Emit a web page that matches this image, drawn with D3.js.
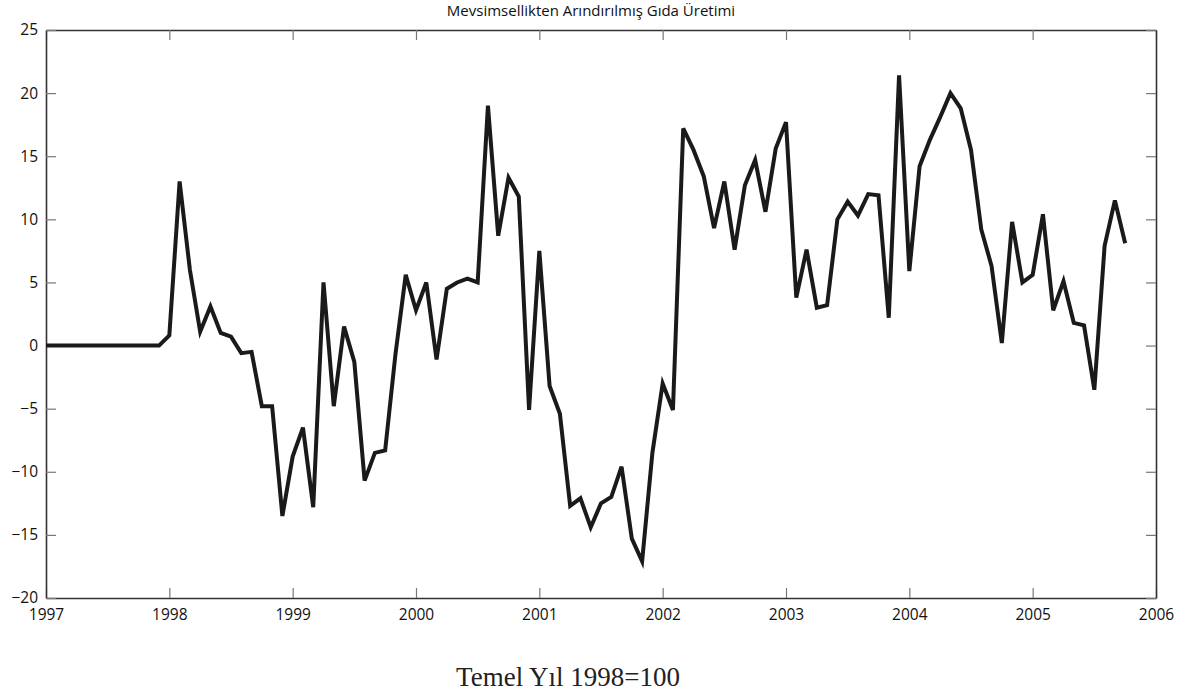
<!DOCTYPE html>
<html>
<head>
<meta charset="utf-8">
<script src="https://cdn.jsdelivr.net/npm/d3@7"></script>
<style>
  html, body { margin: 0; padding: 0; background: #ffffff; }
  svg { display: block; }
</style>
</head>
<body>
<script>
// ---- data ----
const title = "Mevsimsellikten Arındırılmış Gıda Üretimi";
const footnote = "Temel Yıl 1998=100";
const startYear = 1997;
const years = [1997, 1998, 1999, 2000, 2001, 2002, 2003, 2004, 2005, 2006];
const yTicks = [-20, -15, -10, -5, 0, 5, 10, 15, 20, 25];
const v1997 = [0, 0, 0, 0, 0, 0, 0, 0, 0, 0, 0, 0];
const v1998 = [0.8, 13.0, 6.0, 1.1, 3.1, 1.0, 0.7, -0.6, -0.5, -4.8, -4.8, -13.5];
const v1999 = [-8.8, -6.5, -12.8, 5.0, -4.8, 1.5, -1.3, -10.7, -8.5, -8.3, -0.7, 5.6];
const v2000 = [2.8, 5.0, -1.1, 4.5, 5.0, 5.3, 5.0, 19.0, 8.7, 13.3, 11.8, -5.1];
const v2001 = [7.5, -3.2, -5.4, -12.7, -12.1, -14.4, -12.5, -12.0, -9.6, -15.3, -17.1, -8.5];
const v2002 = [-3.0, -5.1, 17.2, 15.5, 13.4, 9.3, 13.0, 7.6, 12.7, 14.7, 10.6, 15.6];
const v2003 = [17.7, 3.8, 7.6, 3.0, 3.2, 10.0, 11.4, 10.3, 12.0, 11.9, 2.2, 21.4];
const v2004 = [5.9, 14.2, 16.3, 18.1, 20.0, 18.8, 15.5, 9.2, 6.3, 0.2, 9.8, 5.0];
const v2005 = [5.6, 10.4, 2.8, 5.1, 1.8, 1.6, -3.5, 7.9, 11.5, 8.1];

const values = [].concat(v1997, v1998, v1999, v2000, v2001, v2002, v2003, v2004, v2005);
const series = values.map((v, i) => ({ t: startYear + i / 12, v }));

// ---- layout ----
const W = 1187, H = 694;
const L = 46, R = 1156, T = 30, B = 598;

const svg = d3.select("body").append("svg").attr("width", W).attr("height", H);

const x = d3.scaleLinear().domain([1997, 2006]).range([L, R]);
const y = d3.scaleLinear().domain([-20, 25]).range([B, T]);

const font = "'Open Sans', 'Noto Sans', sans-serif";

function styleAxis(g) {
  g.select(".domain").attr("stroke", "#333").attr("stroke-width", 1.6);
  g.selectAll(".tick line").attr("stroke", "#777").attr("stroke-width", 1.2);
  g.selectAll(".tick text").attr("fill", "#111").style("font-family", font).style("font-size", "15.5px");
}

// bottom axis
svg.append("g").attr("transform", `translate(0,${B})`)
  .call(d3.axisBottom(x).tickValues(years).tickFormat(d3.format("d")).tickSizeInner(-10).tickSizeOuter(0).tickPadding(11))
  .call(styleAxis);
// top axis
svg.append("g").attr("transform", `translate(0,${T})`)
  .call(d3.axisTop(x).tickValues(years).tickFormat("").tickSizeInner(-10).tickSizeOuter(0))
  .call(styleAxis);
// left axis
svg.append("g").attr("transform", `translate(${L},0)`)
  .call(d3.axisLeft(y).tickValues(yTicks).tickFormat(d3.format("d")).tickSizeInner(-10).tickSizeOuter(0).tickPadding(8))
  .call(styleAxis);
// right axis
svg.append("g").attr("transform", `translate(${R},0)`)
  .call(d3.axisRight(y).tickValues(yTicks).tickFormat("").tickSizeInner(-10).tickSizeOuter(0))
  .call(styleAxis);

// line
const line = d3.line().x(d => x(d.t)).y(d => y(d.v));
svg.append("path")
  .datum(series)
  .attr("d", line)
  .attr("fill", "none")
  .attr("stroke", "#1a1a1a")
  .attr("stroke-width", 4);

// title
svg.append("text")
  .attr("x", 591).attr("y", 16)
  .attr("text-anchor", "middle")
  .style("font-family", font).style("font-size", "15px")
  .attr("fill", "#111")
  .text(title);

// footnote
svg.append("text")
  .attr("x", 568).attr("y", 686)
  .attr("text-anchor", "middle")
  .style("font-family", "'Liberation Serif', 'DejaVu Serif', serif").style("font-size", "27px")
  .attr("fill", "#222")
  .text(footnote);
</script>
</body>
</html>
